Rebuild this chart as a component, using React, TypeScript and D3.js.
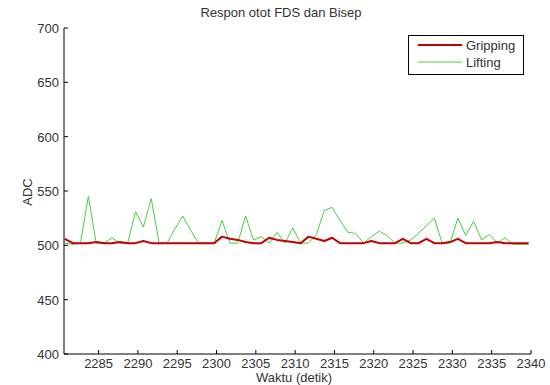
import React from 'react';
import * as d3 from 'd3';

// time stamps (detik)
const waktu = [
  2280.7, 2281.7, 2282.7, 2283.7, 2284.7, 2285.7, 2286.7, 2287.7, 2288.7, 2289.7,
  2290.7, 2291.7, 2292.7, 2293.7, 2294.7, 2295.7, 2296.7, 2297.7, 2298.7, 2299.7,
  2300.7, 2301.7, 2302.7, 2303.7, 2304.7, 2305.7, 2306.7, 2307.7, 2308.7, 2309.7,
  2310.7, 2311.7, 2312.7, 2313.7, 2314.7, 2315.7, 2316.7, 2317.7, 2318.7, 2319.7,
  2320.7, 2321.7, 2322.7, 2323.7, 2324.7, 2325.7, 2326.7, 2327.7, 2328.7, 2329.7,
  2330.7, 2331.7, 2332.7, 2333.7, 2334.7, 2335.7, 2336.7, 2337.7, 2338.7, 2339.7,
];

const gripping = [
  506, 502, 502, 502, 503, 502, 502, 503, 502, 502,
  504, 502, 502, 502, 502, 502, 502, 502, 502, 502,
  508, 506, 505, 503, 502, 502, 507, 505, 504, 503,
  502, 508, 506, 504, 507, 502, 502, 502, 502, 504,
  502, 502, 502, 506, 502, 502, 506, 502, 502, 503,
  506, 502, 502, 502, 502, 503, 502, 502, 502, 502,
];

const lifting = [
  502, 501, 502, 545, 502, 502, 507, 502, 502, 531,
  517, 543, 502, 502, 515, 527, 514, 502, 502, 502,
  523, 502, 502, 527, 505, 508, 502, 512, 502, 516,
  502, 502, 510, 532, 535, 523, 512, 511, 502, 508,
  513, 509, 502, 502, 505, 511, 518, 525, 502, 502,
  525, 509, 522, 505, 510, 502, 507, 501, 501, 501,
];

const seriesNames = ['Gripping', 'Lifting'];
const seriesColors = ['#c40000', '#44d044'];
const xTicks = [2285, 2290, 2295, 2300, 2305, 2310, 2315, 2320, 2325, 2330, 2335, 2340];
const yTicks = [400, 450, 500, 550, 600, 650, 700];

const W = 550;
const H = 385;
const m = { left: 64, right: 19, top: 28, bottom: 31 };
const font = 'Liberation Sans, Arial, sans-serif';
const ink = '#333';

const App = () => {
  const x = d3.scaleLinear().domain([2280.6, 2340]).range([m.left, W - m.right]);
  const y = d3.scaleLinear().domain([400, 700]).range([H - m.bottom, m.top]);

  const line = d3.line<number>()
    .x((_, i) => x(waktu[i]))
    .y(d => y(d));

  const widths = [2, 1];

  return (
    <svg width={W} height={H} style={{ position: 'absolute', left: 0, top: 0, background: '#fff' }}
      fontFamily={font}>
      {/* title */}
      <text x={281} y={17} fontSize={13} textAnchor="middle" fill={ink}>Respon otot FDS dan Bisep</text>

      {/* lines: green below red so the red base stays visible */}
      <path d={line(lifting) || ''} fill="none" stroke={seriesColors[1]} strokeWidth={widths[1]} />
      <path d={line(gripping) || ''} fill="none" stroke={seriesColors[0]} strokeWidth={widths[0]}
        strokeLinejoin="round" />

      {/* axes */}
      <line x1={m.left} x2={W - m.right} y1={y(400)} y2={y(400)} stroke="#000" />
      <line x1={m.left} x2={m.left} y1={y(400)} y2={y(700)} stroke="#000" />
      {xTicks.map(t => (
        <g key={t}>
          <line x1={x(t)} x2={x(t)} y1={y(400)} y2={y(400) - 4} stroke="#000" />
          <text x={x(t)} y={y(400) + 14} fontSize={13} textAnchor="middle" fill={ink}>{t}</text>
        </g>
      ))}
      {yTicks.map(t => (
        <g key={t}>
          <line x1={m.left} x2={m.left + 4} y1={y(t)} y2={y(t)} stroke="#000" />
          <text x={m.left - 5} y={y(t) + 5} fontSize={13} textAnchor="end" fill={ink}>{t}</text>
        </g>
      ))}

      {/* axis labels */}
      <text x={294} y={382} fontSize={13} textAnchor="middle" fill={ink}>Waktu (detik)</text>
      <text transform={`translate(32,192) rotate(-90)`} fontSize={13} textAnchor="middle" fill={ink}>ADC</text>

      {/* legend */}
      <rect x={408.5} y={35.5} width={115} height={39} fill="#fff" stroke="#000" />
      {seriesNames.map((n, i) => (
        <g key={n}>
          <line x1={418} x2={462} y1={45 + i * 17} y2={45 + i * 17} stroke={seriesColors[i]} strokeWidth={widths[i]} />
          <text x={466} y={50 + i * 17} fontSize={13} fill={ink}>{n}</text>
        </g>
      ))}
    </svg>
  );
};

export default App;
